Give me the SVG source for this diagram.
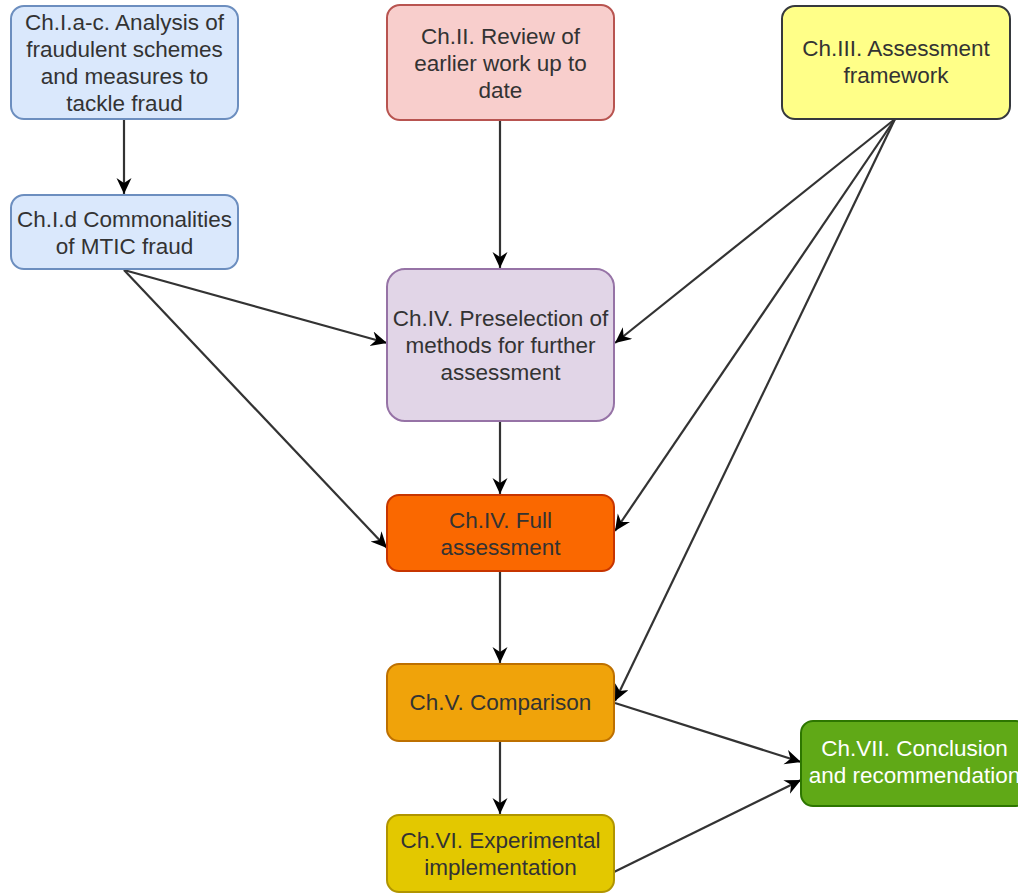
<svg xmlns="http://www.w3.org/2000/svg" width="1018" height="896" viewBox="0 0 1018 896">
  <style>
    .box { stroke-width: 2; }
    .lbl { font-family: "Liberation Sans", Arial, sans-serif; font-size: 22.5px; fill: #333333; text-anchor: middle; }
    .lbl.light { fill: #ffffff; }
    .edge { fill: none; stroke: #333333; stroke-width: 2.2; }
  </style>
  <defs>
    <marker id="arrow" markerUnits="userSpaceOnUse" markerWidth="18" markerHeight="16" refX="16" refY="7.5" orient="auto">
      <path d="M0,0 L16,7.5 L0,15 L5,7.5 Z" fill="#000000"/>
    </marker>
  </defs>
  <rect width="1018" height="896" fill="#ffffff"/>

  <!-- connectors -->
  <g id="connectors">
    <line class="edge" x1="124" y1="120" x2="124" y2="194" marker-end="url(#arrow)"/>
    <line class="edge" x1="500" y1="120" x2="500" y2="268" marker-end="url(#arrow)"/>
    <line class="edge" x1="124" y1="270" x2="387" y2="343" marker-end="url(#arrow)"/>
    <line class="edge" x1="124" y1="270" x2="387" y2="548" marker-end="url(#arrow)"/>
    <line class="edge" x1="895" y1="119" x2="615" y2="343" marker-end="url(#arrow)"/>
    <line class="edge" x1="895" y1="119" x2="615" y2="531" marker-end="url(#arrow)"/>
    <line class="edge" x1="895" y1="119" x2="615" y2="701" marker-end="url(#arrow)"/>
    <line class="edge" x1="500" y1="421" x2="500" y2="494" marker-end="url(#arrow)"/>
    <line class="edge" x1="500" y1="571" x2="500" y2="663" marker-end="url(#arrow)"/>
    <line class="edge" x1="500" y1="741" x2="500" y2="814" marker-end="url(#arrow)"/>
    <line class="edge" x1="615" y1="703" x2="801" y2="762" marker-end="url(#arrow)"/>
    <line class="edge" x1="614" y1="872" x2="801" y2="780" marker-end="url(#arrow)"/>
  </g>

  <!-- nodes -->
  <g id="node-ch1abc">
    <rect class="box" x="11" y="6" width="227" height="113" rx="13" fill="#dae8fc" stroke="#6c8ebf"/>
    <text class="lbl" x="124.5" y="30">Ch.I.a-c. Analysis of</text>
    <text class="lbl" x="124.5" y="57">fraudulent schemes</text>
    <text class="lbl" x="124.5" y="84">and measures to</text>
    <text class="lbl" x="124.5" y="111">tackle fraud</text>
  </g>

  <g id="node-ch1d">
    <rect class="box" x="11" y="195" width="227" height="74" rx="13" fill="#dae8fc" stroke="#6c8ebf"/>
    <text class="lbl" x="124.5" y="226.5">Ch.I.d Commonalities</text>
    <text class="lbl" x="124.5" y="253.5">of MTIC fraud</text>
  </g>

  <g id="node-ch2">
    <rect class="box" x="387" y="5" width="227" height="115" rx="13" fill="#f8cecc" stroke="#b85450"/>
    <text class="lbl" x="500.5" y="43.5">Ch.II. Review of</text>
    <text class="lbl" x="500.5" y="70.5">earlier work up to</text>
    <text class="lbl" x="500.5" y="97.5">date</text>
  </g>

  <g id="node-ch3">
    <rect class="box" x="782" y="6" width="228" height="113" rx="13" fill="#ffff88" stroke="#36393d"/>
    <text class="lbl" x="896" y="56">Ch.III. Assessment</text>
    <text class="lbl" x="896" y="83">framework</text>
  </g>

  <g id="node-ch4-preselection">
    <rect class="box" x="387" y="269" width="227" height="152" rx="18" fill="#e1d5e7" stroke="#9673a6"/>
    <text class="lbl" x="500.5" y="326">Ch.IV. Preselection of</text>
    <text class="lbl" x="500.5" y="353">methods for further</text>
    <text class="lbl" x="500.5" y="380">assessment</text>
  </g>

  <g id="node-ch4-full">
    <rect class="box" x="387" y="495" width="227" height="76" rx="12" fill="#fa6800" stroke="#c73500"/>
    <text class="lbl" x="500.5" y="527.5">Ch.IV. Full</text>
    <text class="lbl" x="500.5" y="554.5">assessment</text>
  </g>

  <g id="node-ch5">
    <rect class="box" x="387" y="664" width="227" height="77" rx="12" fill="#f0a30a" stroke="#bd7000"/>
    <text class="lbl" x="500.5" y="710">Ch.V. Comparison</text>
  </g>

  <g id="node-ch6">
    <rect class="box" x="387" y="815" width="227" height="77" rx="12" fill="#e3c800" stroke="#b09500"/>
    <text class="lbl" x="500.5" y="848">Ch.VI. Experimental</text>
    <text class="lbl" x="500.5" y="875">implementation</text>
  </g>

  <g id="node-ch7">
    <rect class="box" x="801" y="721" width="227" height="85" rx="12" fill="#60a917" stroke="#2d7600"/>
    <text class="lbl light" x="914.5" y="756">Ch.VII. Conclusion</text>
    <text class="lbl light" x="914.5" y="783">and recommendation</text>
  </g>
</svg>
